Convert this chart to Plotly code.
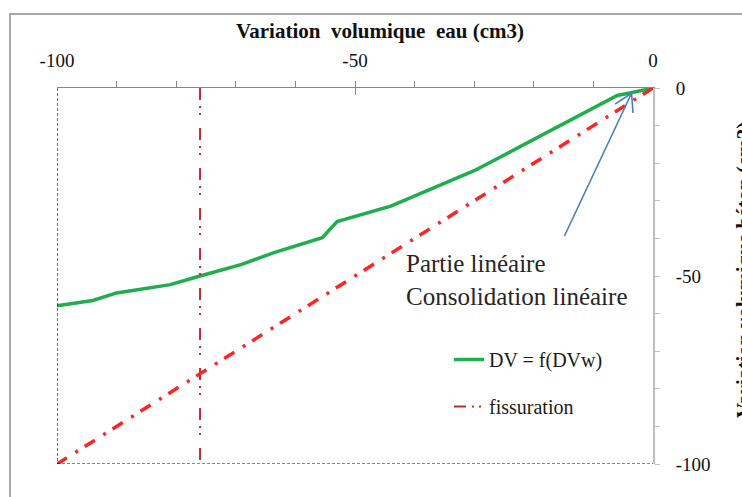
import plotly.graph_objects as go

# ---- data ----
dvw = [-100, -94, -90, -81, -76, -69, -63.6, -55.5, -53, -44, -30, -15.5, -6, -3.5, 0]
dv = [-57.9, -56.5, -54.5, -52.3, -50.0, -46.9, -43.8, -39.8, -35.5, -31.4, -22, -10, -2, -1.2, 0]

fiss_x = [-76, -76]
fiss_y = [0, -100]

lin_x = [0, -100]
lin_y = [0, -100]

x_ticks = [-100, -50, 0]
x_tick_text = ["-100", "-50", "0"]
y_ticks = [0, -50, -100]
y_tick_text = ["0", "-50", "-100"]

arrow_tip = (-3.6, -1.4)
arrow_tail = (-14.9, -39.5)

W, H = 742, 497
L, R, T, B = 57, 89, 88, 33
PW, PH = W - L - R, H - T - B


def px(xp):
    return (xp - L) / PW


def py(yp):
    return (H - B - yp) / PH


FONT = "Liberation Serif, Times New Roman, serif"
ARROW_COLOR = "#4a7ebb"

fig = go.Figure()

fig.add_trace(go.Scatter(
    x=dvw, y=dv, mode="lines", name="DV = f(DVw)",
    line=dict(color="#1fae4b", width=3.5), legendgroup="a"))
fig.add_trace(go.Scatter(
    x=fiss_x, y=fiss_y, mode="lines", name="fissuration",
    line=dict(color="#c42830", width=2, dash="12px,6px,2px,5px,2px,13px"),
    legendgroup="b"))
fig.add_trace(go.Scatter(
    x=lin_x, y=lin_y, mode="lines", name="linéaire", showlegend=False,
    line=dict(color="#ff2424", width=3.5, dash="12px,8px,3px,10px")))

shapes = [
    # outer chart border
    dict(type="rect", xref="paper", yref="paper", x0=px(10), x1=1.3, y0=-0.3, y1=py(14),
         line=dict(color="#8c8c8c", width=1.5), layer="below"),
    # dashed frame on left and bottom
    dict(type="line", xref="x", yref="y", x0=-100, x1=-100, y0=0, y1=-100,
         line=dict(color="#111111", width=1.2, dash="3px,2px")),
    dict(type="line", xref="x", yref="y", x0=-100, x1=0, y0=-100, y1=-100,
         line=dict(color="#111111", width=1.2, dash="3px,2px")),
]
# open arrow head: two arms drawn in pixel offsets from the arrow tip
for dx, dy in [(-16.5, -10.8), (1.5, -19.8)]:
    shapes.append(dict(type="line", xref="x", yref="y",
                       xsizemode="pixel", ysizemode="pixel",
                       xanchor=arrow_tip[0], yanchor=arrow_tip[1],
                       x0=0, y0=0, x1=dx, y1=dy,
                       line=dict(color=ARROW_COLOR, width=1.6)))

annotations = [
    dict(text="<b>Variation  volumique  eau (cm3)</b>", xref="paper", yref="paper",
         x=px(380), y=py(31), xanchor="center", yanchor="middle", showarrow=False,
         font=dict(family=FONT, size=21, color="#111111")),
    dict(text="<b>Variation volumique béton (cm3)</b>", xref="paper", yref="paper",
         x=px(730), y=py(270), xanchor="left", yanchor="middle", showarrow=False,
         textangle=-90, font=dict(family=FONT, size=21, color="#111111")),
    dict(text="Partie linéaire<br>Consolidation linéaire", xref="paper", yref="paper",
         x=px(404), y=py(248), xanchor="left", yanchor="top", align="left", showarrow=False,
         font=dict(family=FONT, size=25, color="#262626")),
    # arrow shaft
    dict(text="", x=arrow_tip[0], y=arrow_tip[1], xref="x", yref="y",
         ax=arrow_tail[0], ay=arrow_tail[1], axref="x", ayref="y",
         font=dict(size=1), borderpad=0,
         showarrow=True, arrowhead=0, arrowwidth=1.6, arrowcolor=ARROW_COLOR),
]

fig.update_layout(
    width=W, height=H,
    margin=dict(l=L, r=R, t=T, b=B),
    paper_bgcolor="white", plot_bgcolor="white",
    font=dict(family=FONT, size=19, color="#111111"),
    showlegend=True,
    legend=dict(x=px(449), y=py(340), xanchor="left", yanchor="top",
                bgcolor="rgba(0,0,0,0)", font=dict(family=FONT, size=20, color="#1a1a1a"),
                traceorder="grouped", tracegroupgap=18),
    shapes=shapes, annotations=annotations,
    xaxis=dict(side="top", range=[-100, 0], tickvals=x_ticks, ticktext=x_tick_text,
               ticks="inside", ticklen=7, tickcolor="#888888",
               minor=dict(dtick=10, ticks="outside", ticklen=6, tickcolor="#888888"),
               showline=True, linecolor="#888888", linewidth=1,
               showgrid=False, zeroline=False, ticklabelstandoff=12,
               tickfont=dict(family=FONT, size=19, color="#111111")),
    yaxis=dict(side="right", range=[-100, 0], tickvals=y_ticks, ticktext=y_tick_text,
               ticks="outside", ticklen=5, tickcolor="#bfbfbf",
               minor=dict(dtick=10, ticks="outside", ticklen=5, tickcolor="#bfbfbf"),
               showline=True, linecolor="#bfbfbf", linewidth=2,
               showgrid=False, zeroline=False, ticklabelstandoff=12,
               tickfont=dict(family=FONT, size=19, color="#111111")),
)

fig.write_html("out.html", config={"displayModeBar": False},
               post_script="document.body.style.margin='0';")
